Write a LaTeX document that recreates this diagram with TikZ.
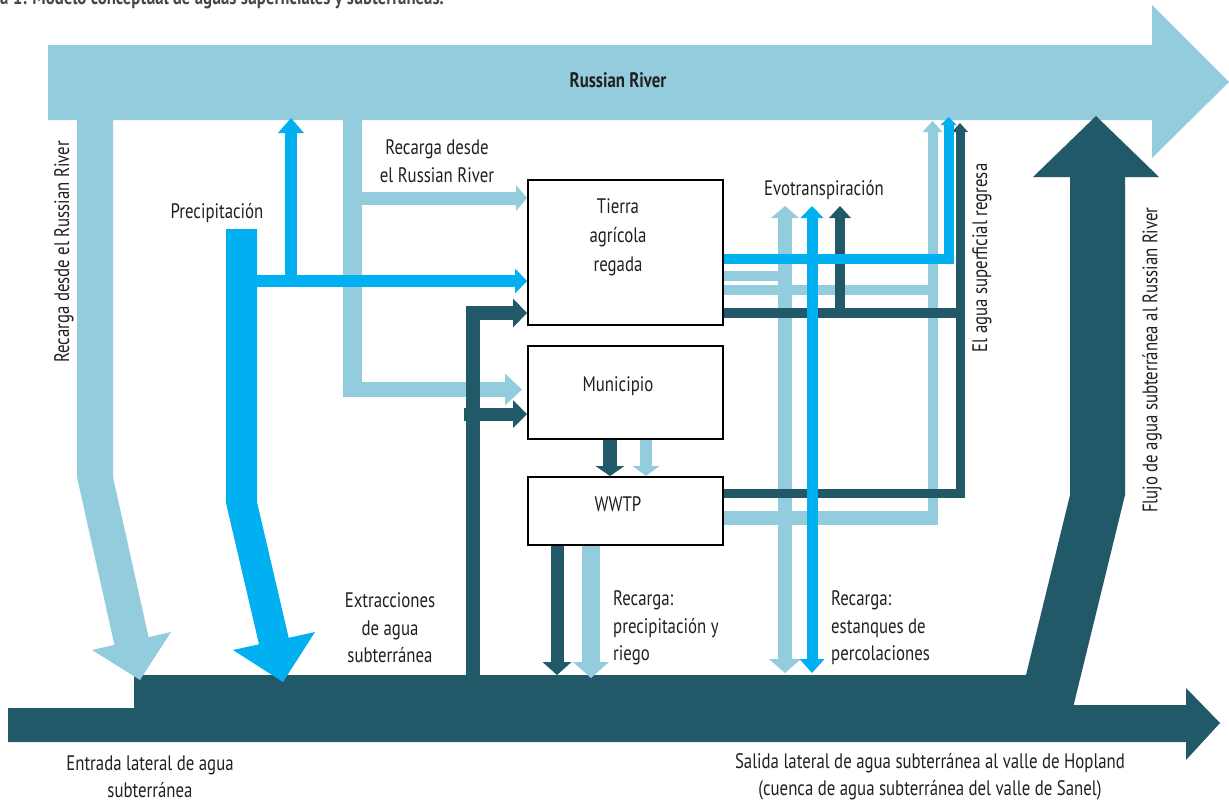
\documentclass[tikz,border=0pt]{standalone}
\usepackage{fontspec}
\setmainfont{PT Sans}[FakeStretch=0.8]
\usetikzlibrary{arrows.meta,calc}
\definecolor{riverblue}{HTML}{93CDDD}
\definecolor{rainblue}{HTML}{00B0F0}
\definecolor{gwteal}{HTML}{215968}
\definecolor{inkgray}{HTML}{231F20}
\pgfdeclarelayer{back}
\pgfsetlayers{back,main}
\tikzset{
  lite/.style={draw=riverblue},
  rain/.style={draw=rainblue},
  gw/.style={draw=gwteal},
  headto/.style 2 args={arrows={-Triangle[width=#1pt,length=#2pt,line width=0pt 0 0]}},
  headsboth/.style n args={4}{arrows={Triangle[width=#1pt,length=#2pt,line width=0pt 0 0]-Triangle[width=#3pt,length=#4pt,line width=0pt 0 0]}},
  lbl/.style={font=\fontsize{21}{28}\selectfont, text=inkgray, inner sep=0pt, align=center},
  box/.style={draw=black, line width=2pt, fill=white, minimum width=195pt, inner sep=0pt},
}
\begin{document}
\begin{tikzpicture}[x=1pt,y=-1pt]
\useasboundingbox (0,0) rectangle (1229,807);

% caption line, cut by the top edge
\begin{scope}
  \clip (0,0) rectangle (700,8);
  \node[anchor=base west, inner sep=0pt, font=\fontsize{21}{21}\selectfont\bfseries, text=black!72] (caption) at (0,4) {a 1: Modelo conceptual de aguas superficiales y subterráneas.};
\end{scope}

% land-use boxes
\node[box, minimum height=145pt] (tierra) at (625.5,252.5) {};
\node[box, minimum height=93pt]  (muni)   at (625.5,392.5) {};
\node[box, minimum height=68pt]  (wwtp)   at (625.5,511) {};
\node[lbl, font=\fontsize{21}{29}\selectfont] (tierraT) at (618,237) {Tierra\\agrícola\\regada};
\node[lbl] (muniT) at (618,386) {Municipio};
\node[lbl] (wwtpT) at (618,504) {WWTP};

% fixed points on the river and on the aquifer
\coordinate (rRec)  at (352.5,120);
\coordinate (recB)  at (352.5,397);
\coordinate (recT)  at (352.5,198);
\coordinate (recM)  at (343,389.5);
\coordinate (muniIn) at (522,389.5);
\coordinate (pT)    at (257,281);
\coordinate (pU)    at (291,287);
\coordinate (rPrec) at (291,118);
\coordinate (gExt)  at (473,676);
\coordinate (eT)    at (473,313);
\coordinate (eM)    at (464,414);
\coordinate (gW1)   at (557,675);
\coordinate (gW2)   at (591,678);
\coordinate (etL)   at (785,206);
\coordinate (gL)    at (785,673);
\coordinate (etB)   at (812,206);
\coordinate (gB)    at (812,673);
\coordinate (etD)   at (840,206);
\coordinate (rB)    at (948.5,117);
\coordinate (rL)    at (932.5,121);
\coordinate (rD)    at (960,123);
\coordinate (wLend) at (937,518);
\coordinate (wLbot) at (932.5,525);
% outlet rows on the right side of the boxes
\coordinate (tB)  at ($(tierra.east)+(0,6.5)$);
\coordinate (tL1) at ($(tierra.east)+(0,23)$);
\coordinate (tL2) at ($(tierra.east)+(0,37.5)$);
\coordinate (tD)  at ($(tierra.east)+(0,60.5)$);
\coordinate (wD)  at ($(wwtp.east)+(0,-18)$);
\coordinate (wL)  at ($(wwtp.east)+(0,7)$);

\begin{pgfonlayer}{back}
  % Russian River
  \fill[riverblue] (48,45) -- (1152,45) -- (1152,5) -- (1229,82) -- (1152,158) -- (1152,120) -- (48,120) -- cycle;
  % groundwater body with lateral inflow and outflow
  \fill[gwteal] (8,708) -- (134,708) -- (134,675) -- (1060,675) -- (1060,705) -- (1186,705) -- (1186,688) -- (1220,723) -- (1186,760) -- (1186,742) -- (8,742) -- cycle;
  % groundwater discharge to the river
  \fill[gwteal] (1015,720) -- (1070,495) -- (1070,177) -- (1033,177) -- (1096,116) -- (1159,177) -- (1125,177) -- (1125,495) -- (1070,720) -- cycle;
  % recharge from the river (left)
  \fill[riverblue] (77,119) -- (113,119) -- (113,477) -- (148.6,637.1) -- (171,632) -- (140,680) -- (92,650) -- (114.4,644.9) -- (77,477) -- cycle;

  % river water delivered to farmland and town
  \draw[lite, line width=19pt] (rRec) -- (recB);
  \draw[lite, line width=13pt, headto={26}{11}] (recT) -- (recT -| tierra.west);
  \draw[lite, line width=15pt, headto={32}{17}] (recM) -- (muniIn);
  \draw[lite, line width=12pt, headto={27}{10}] ($(muni.south)+(20.5,0)$) -- ($(wwtp.north)+(20.5,0)$);
  \draw[lite, line width=18pt, headto={36}{16}] ($(wwtp.south)+(-34.5,0)$) -- (gW2);
  % evapotranspiration and percolation (light)
  \draw[lite, line width=14pt, headsboth={28}{12}{32}{14}] (etL) -- (gL);
  \draw[lite, line width=10pt] (tL1) -- (tL1 -| etL);
  % surface return (light)
  \draw[lite, line width=10pt] (tL2) -- (tL2 -| wLend);
  \draw[lite, line width=14pt] (wL) -- (wLend);
  \draw[lite, line width=10pt, headto={20}{11}] (wLbot) -- (rL);

  % groundwater pumping
  \draw[gw, line width=14pt, headto={29}{14}] (gExt) -- (eT) -- (eT -| tierra.west);
  \draw[gw, line width=13pt, headto={28}{14}] (eM) -- (eM -| muni.west);
  \draw[gw, line width=14pt, headto={29}{10}] ($(muni.south)+(-15.5,0)$) -- ($(wwtp.north)+(-15.5,0)$);
  \draw[gw, line width=13pt, headto={29}{13}] ($(wwtp.south)+(-68.5,0)$) -- (gW1);
  % surface return and evapotranspiration (dark)
  \draw[gw, line width=10pt] (tD) -- (tD -| rD);
  \draw[gw, line width=9pt, headto={16}{9}] (wD) -- (wD -| rD) -- (rD);
  \draw[gw, line width=10pt, headto={22}{12}] (tD -| etD) -- (etD);

  % precipitation
  \fill[rainblue] (226,229) -- (257,229) -- (257,502) -- (288.7,637.8) -- (315,632) -- (283,682) -- (233,650) -- (259,644.3) -- (226,503) -- cycle;
  \draw[rain, line width=12pt, headto={25}{12}] (pT) -- (pT -| tierra.west);
  \draw[rain, line width=12pt, headto={26}{15}] (pU) -- (rPrec);
  \draw[rain, line width=11pt, headsboth={23}{12}{25}{14}] (etB) -- (gB);
  \draw[rain, line width=10pt, headto={16}{8}] (tB) -- (tB -| rB) -- (rB);
\end{pgfonlayer}

% labels
\node[lbl, font=\fontsize{21}{28}\selectfont\bfseries] (river) at (618,80) {Russian River};
\node[lbl] (precLbl) at (217,213) {Precipitación};
\node[lbl] (recLbl) at (437,161) {Recarga desde\\el Russian River};
\node[lbl] (etLbl) at (824,190) {Evotranspiración};
\node[lbl, font=\fontsize{21}{27.5}\selectfont] (extLbl) at (390,628) {Extracciones\\de agua\\subterránea};
\node[lbl, font=\fontsize{21}{27.5}\selectfont, anchor=west, align=left] (rprLbl) at (613,628) {Recarga:\\precipitación y\\riego};
\node[lbl, font=\fontsize{21}{27.5}\selectfont, anchor=west, align=left] (rpeLbl) at (831,628) {Recarga:\\estanques de\\percolaciones};
\node[lbl, font=\fontsize{21}{27}\selectfont] (inLbl) at (150,777) {Entrada lateral de agua\\subterránea};
\node[lbl, font=\fontsize{21}{27}\selectfont] (outLbl) at (930,777) {Salida lateral de agua subterránea al valle de Hopland\\(cuenca de agua subterránea del valle de Sanel)};
\node[lbl, rotate=90] (leftLbl) at (64,252) {Recarga desde el Russian River};
\node[lbl, rotate=90] (retLbl) at (982,258) {El agua superficial regresa};
\node[lbl, rotate=90] (flujoLbl) at (1152,360) {Flujo de agua subterránea al Russian River};
\end{tikzpicture}
\end{document}
